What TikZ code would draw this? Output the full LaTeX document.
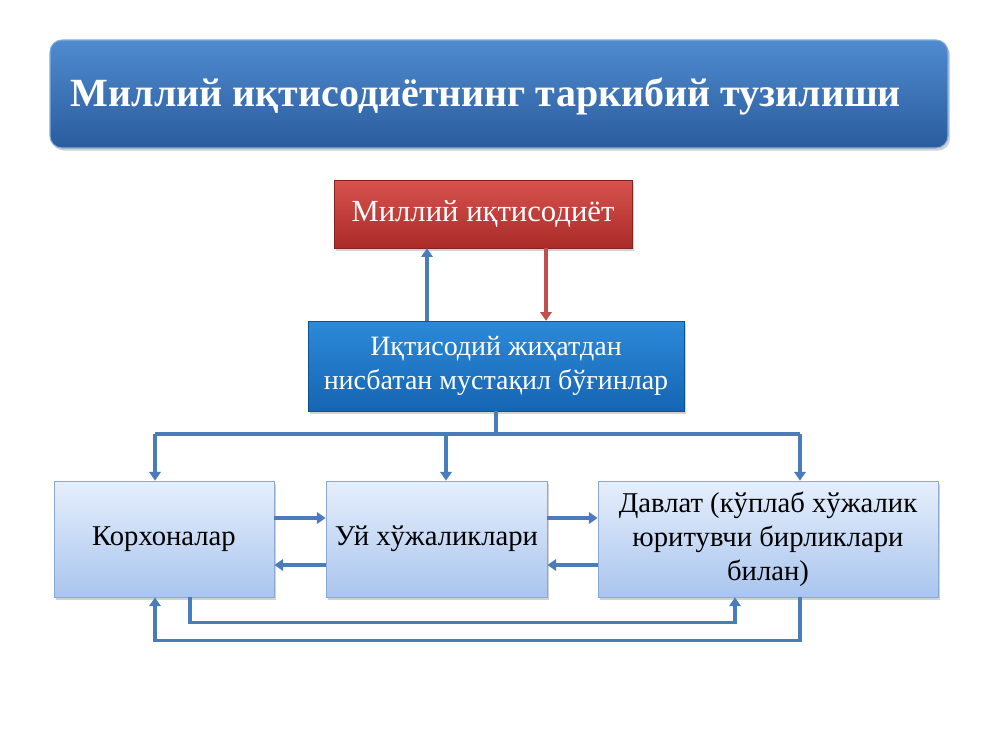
\documentclass[tikz,border=0pt]{standalone}
\usepackage{fontspec}
\setmainfont{Liberation Serif}
\usetikzlibrary{arrows.meta,shadows,calc}
\definecolor{lnblue}{HTML}{4A7CBA}
\definecolor{lnred}{HTML}{C0504D}
\definecolor{ttop}{HTML}{4F8BCF}
\definecolor{tbot}{HTML}{2A5C9E}
\definecolor{rtop}{HTML}{D8524E}
\definecolor{rbot}{HTML}{A92B28}
\definecolor{mtop}{HTML}{2C8AD9}
\definecolor{mbot}{HTML}{1565B3}
\definecolor{ltop}{HTML}{E6EFFC}
\definecolor{lbot}{HTML}{A9C5EE}
\definecolor{lbord}{HTML}{8CA9D3}
\tikzset{
  px/.style={x={(0.75pt,0)},y={(0,-0.75pt)}},
  shad/.style={drop shadow={opacity=0.35,shadow xshift=1.5pt,shadow yshift=-2pt}},
  titlebox/.style={rounded corners=9pt,top color=ttop,bottom color=tbot,draw=ttop!70!white,line width=0.8pt,shad,
    minimum width=673.5pt,minimum height=81pt},
  titletext/.style={text=white,inner sep=0pt,font=\fontsize{30}{36}\selectfont\bfseries},
  redbox/.style={top color=rtop,bottom color=rbot,draw=rbot!80!black,line width=0.4pt,shad,
    minimum width=223.5pt,minimum height=51pt,text=white,font=\fontsize{23}{27}\selectfont},
  midbox/.style={top color=mtop,bottom color=mbot,draw=mbot!80!black,line width=0.4pt,shad,
    minimum width=282pt,minimum height=67.5pt,text=white,align=center,font=\fontsize{21}{26}\selectfont},
  lowbox/.style={top color=ltop,bottom color=lbot,draw=lbord,line width=0.6pt,shad,
    minimum height=87pt,text=black,align=center,font=\fontsize{21.5}{25.5}\selectfont},
  ln/.style={draw=lnblue,line width=2.5pt},
  arr/.style={ln,-{Triangle[width=8.5pt,length=6.5pt]}},
  rarr/.style={draw=lnred,line width=2.5pt,-{Triangle[width=8.5pt,length=6.5pt]}}
}
\begin{document}
\begin{tikzpicture}[px]
\useasboundingbox[fill=white] (0,0) rectangle (1000,750);
\node[titlebox] (title) at (499,94) {};
\node[titletext] (ttext) at (486,96) {Миллий иқтисодиётнинг таркибий тузилиши};
\node[redbox] (top) at (483,214) {Миллий иқтисодиёт};
\node[midbox] (mid) at (496,366) {Иқтисодий жиҳатдан\\нисбатан мустақил бўғинлар};
\node[lowbox,minimum width=165pt] (kor) at (164,539) {Корхоналар};
\node[lowbox,minimum width=165.75pt] (uy) at (436.5,539) {Уй хўжаликлари};
\node[lowbox,minimum width=255pt] (dav) at (768,539) {Давлат (кўплаб хўжалик\\юритувчи бирликлари\\билан)};
% vertical links top/mid
\coordinate (xup) at (427,0);
\coordinate (xdn) at (546,0);
\draw[arr] (xup |- mid.north) -- (xup |- top.south);
\draw[rarr] (xdn |- top.south) -- (xdn |- mid.north);
% bus
\coordinate (bM) at (496,434);
\coordinate (bL) at (155,434);
\coordinate (bU) at (446,434);
\coordinate (bR) at (800,434);
\draw[ln] (mid.south) -- (bM);
\draw[ln] (bL) -- (bR);
\draw[arr] (bL) -- (bL |- kor.north);
\draw[arr] (bU) -- (bU |- uy.north);
\draw[arr] (bR) -- (bR |- dav.north);
% horizontal exchanges
\coordinate (yA) at (0,518);
\coordinate (yB) at (0,565);
\draw[arr] (kor.east |- yA) -- (uy.west |- yA);
\draw[arr] (uy.west |- yB) -- (kor.east |- yB);
\draw[arr] (uy.east |- yA) -- (dav.west |- yA);
\draw[arr] (dav.west |- yB) -- (uy.east |- yB);
% bottom loops
\coordinate (x190) at (190,0);
\coordinate (x735) at (735,0);
\coordinate (x800) at (800,0);
\coordinate (x155) at (155,0);
\draw[arr] (kor.south -| x190) -- ++(0,25) -| (dav.south -| x735);
\draw[arr] (dav.south -| x800) -- ++(0,43) -| (kor.south -| x155);
\end{tikzpicture}
\end{document}
